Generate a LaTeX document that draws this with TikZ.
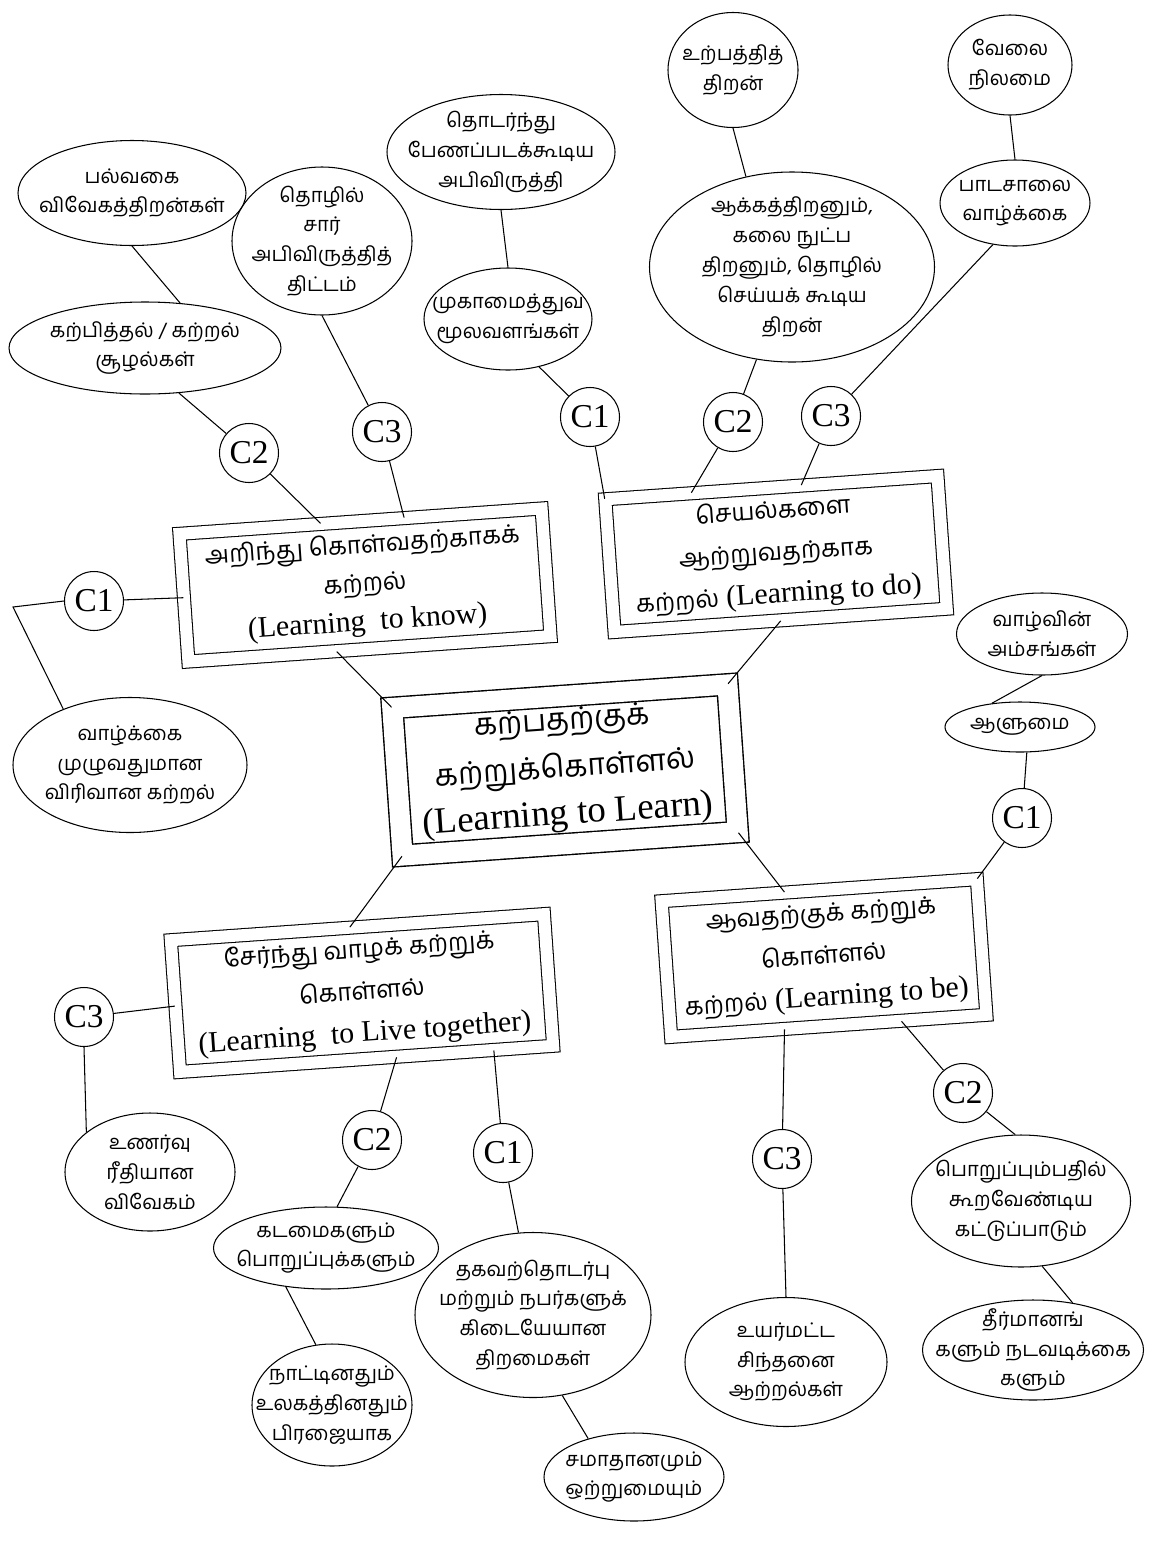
\documentclass[tikz,border=0pt]{standalone}
\usepackage{fontspec}
\setmainfont{Liberation Serif}
\newfontfamily\tamil[Script=Tamil, Scale=0.82]{Hind Madurai}
\usetikzlibrary{shapes.geometric, calc}
\newcommand{\tm}[1]{{\tamil #1}}

\tikzset{
  oval/.style 2 args={ellipse, draw, line width=0.6pt, inner sep=0pt,
    minimum width=#1*0.02cm, minimum height=#2*0.02cm},
  otext/.style={align=center, font=\tamil\fontsize{14}{17}\selectfont},
  cnode/.style={circle, draw, line width=0.6pt, inner sep=0pt, minimum size=1.18cm,
    font=\fontsize{19}{19}\selectfont},
  box/.style 2 args={rectangle, draw, line width=0.6pt, double, double distance=0.24cm,
    inner sep=0pt, rotate=4, align=center, minimum width=#1*0.02cm,
    minimum height=#2*0.02cm, font=\fontsize{17}{24}\selectfont},
  mainbox/.style={box={336}{148}, double distance=0.4cm, line width=0.8pt,
    font=\fontsize{21}{27}\selectfont},
  conn/.style={line width=0.6pt},
}

\begin{document}
\begin{tikzpicture}[x=0.02cm, y=-0.02cm]
\useasboundingbox (0,0) rectangle (1168,1542);

% the five pillars
\node[mainbox] (learn) at (565,770) {\tm{கற்பதற்குக்}\\\tm{கற்றுக்கொள்ளல்}\\(Learning to Learn)};
\node[box={363}{128}, font=\fontsize{17}{22}\selectfont] (know) at (365,585) {\tm{அறிந்து கொள்வதற்காகக்}\\\tm{கற்றல்}\\(Learning\ \ to know)};
\node[box={333}{133}] (todo) at (776,554) {\tm{செயல்களை}\\\tm{ஆற்றுவதற்காக}\\\tm{கற்றல்} (Learning to do)};
\node[box={374}{132}] (live) at (362,993) {\tm{சேர்ந்து வாழக் கற்றுக்}\\\tm{கொள்ளல்}\\(Learning\ \ to Live together)};
\node[box={316}{136}] (tobe) at (824,958) {\tm{ஆவதற்குக் கற்றுக்}\\\tm{கொள்ளல்}\\\tm{கற்றல்} (Learning to be)};

% levels C1, C2, C3
\node[cnode] (c2a) at (249,453) {C2};
\node[cnode] (c3a) at (382,432) {C3};
\node[cnode] (c1a) at (94,601) {C1};
\node[cnode] (c1b) at (590,417) {C1};
\node[cnode] (c2b) at (733,422) {C2};
\node[cnode] (c3b) at (831,416) {C3};
\node[cnode] (c1c) at (1022,818) {C1};
\node[cnode] (c3c) at (84,1017) {C3};
\node[cnode] (c2d) at (372,1140) {C2};
\node[cnode] (c1d) at (503,1153) {C1};
\node[cnode] (c3e) at (782,1159) {C3};
\node[cnode] (c2e) at (963,1093) {C2};

% learning to know
\node[oval={228}{105}, label={[otext]center:{பல்வகை\\விவேகத்திறன்கள்}}] (palvagai) at (132,193) {};
\node[oval={272}{92}, label={[otext]center:{கற்பித்தல் / கற்றல்\\சூழல்கள்}}] (katpithal) at (145,348) {};
\node[oval={180}{148}, label={[otext]center:{தொழில்\\சார்\\அபிவிருத்தித்\\திட்டம்}}] (thozhil) at (322,241) {};
\node[oval={234}{135}, label={[otext]center:{வாழ்க்கை\\முழுவதுமான\\விரிவான கற்றல்}}] (vazhkkai) at (130,765) {};

% learning to do
\node[oval={228}{115}, label={[otext]center:{தொடர்ந்து\\பேணப்படக்கூடிய\\அபிவிருத்தி}}] (thodarnthu) at (501,152) {};
\node[oval={168}{102}, label={[otext]center:{முகாமைத்துவ\\மூலவளங்கள்}}] (mugamai) at (508,319) {};
\node[oval={130}{115}, label={[otext]center:{உற்பத்தித்\\திறன்}}] (urpathi) at (733,70) {};
\node[oval={285}{190}, label={[otext]center:{ஆக்கத்திறனும்,\\கலை நுட்ப\\திறனும், தொழில்\\செய்யக் கூடிய\\திறன்}}] (aakka) at (792,267) {};
\node[oval={124}{100}, label={[otext]center:{வேலை\\நிலமை}}] (velai) at (1010,65) {};
\node[oval={150}{86}, label={[otext]center:{பாடசாலை\\வாழ்க்கை}}] (padasalai) at (1015,203) {};

% learning to be
\node[oval={171}{82}, label={[otext]center:{வாழ்வின்\\அம்சங்கள்}}] (vazhvin) at (1042,634) {};
\node[oval={150}{50}, label={[otext]center:{ஆளுமை}}] (aalumai) at (1020,727) {};
\node[oval={202}{129}, label={[otext]center:{உயர்மட்ட\\சிந்தனை\\ஆற்றல்கள்}}] (uyarmatta) at (786,1362) {};
\node[oval={219}{132}, label={[otext]center:{பொறுப்பும்பதில்\\கூறவேண்டிய\\கட்டுப்பாடும்}}] (porupu) at (1021,1201) {};
\node[oval={221}{100}, label={[otext]center:{தீர்மானங்\\களும் நடவடிக்கை\\களும்}}] (theermanam) at (1033,1350) {};

% learning to live together
\node[oval={170}{118}, label={[otext]center:{உணர்வு\\ரீதியான\\விவேகம்}}] (unarvu) at (150,1172) {};
\node[oval={225}{82}, label={[otext]center:{கடமைகளும்\\பொறுப்புக்களும்}}] (kadamai) at (326,1248) {};
\node[oval={160}{122}, label={[otext]center:{நாட்டினதும்\\உலகத்தினதும்\\பிரஜையாக}}] (nattinathum) at (332,1405) {};
\node[oval={236}{165}, label={[otext]center:{தகவற்தொடர்பு\\மற்றும் நபர்களுக்\\கிடையேயான\\திறமைகள்}}] (thagaval) at (533,1315) {};
\node[oval={180}{88}, label={[otext]center:{சமாதானமும்\\ஒற்றுமையும்}}] (samathanam) at (634,1477) {};

% connectors
\draw[conn] (palvagai.south) -- (katpithal.52);
\draw[conn] (katpithal.-53) -- (c2a);
\draw[conn] (c2a) -- ($(know.north west)!0.39!(know.north east)$);
\draw[conn] (thozhil.south) -- (c3a);
\draw[conn] (c3a) -- ($(know.north west)!0.62!(know.north east)$);
\draw[conn] (c1a) -- (know.west);
\coordinate (bend1) at (13,607);
\draw[conn] (c1a.west) -- (bend1) -- (vazhkkai.140);
\draw[conn] ($(know.south west)!0.41!(know.south east)$) -- (learn.north west);

\draw[conn] (thodarnthu.south) -- (mugamai.north);
\draw[conn] (mugamai.-57) -- (c1b);
\draw[conn] (c1b) -- (todo.north west);
\draw[conn] (urpathi.south) -- (aakka.117);
\draw[conn] (aakka.-111) -- (c2b);
\draw[conn] (c2b) -- ($(todo.north west)!0.26!(todo.north east)$);
\draw[conn] (c3b) -- ($(todo.north west)!0.59!(todo.north east)$);
\draw[conn] (c3b) -- (padasalai.-118);
\draw[conn] (velai.south) -- (padasalai.north);
\draw[conn] (learn.north east) -- ($(todo.south west)!0.5!(todo.south east)$);

\draw[conn] (vazhvin.south) -- (aalumai.140);
\draw[conn] (aalumai.-75) -- (c1c);
\draw[conn] (c1c) -- (tobe.north east);
\draw[conn] (learn.south east) -- ($(tobe.north west)!0.39!(tobe.north east)$);
\draw[conn] ($(tobe.south west)!0.36!(tobe.south east)$) -- (c3e);
\draw[conn] (c3e) -- (uyarmatta.north);
\draw[conn] ($(tobe.south west)!0.73!(tobe.south east)$) -- (c2e);
\draw[conn] (c2e) -- (porupu.95);
\draw[conn] (porupu.-72) -- (theermanam.50);

\draw[conn] (learn.south west) -- ($(live.north west)!0.48!(live.north east)$);
\draw[conn] (c3c) -- (live.west);
\draw[conn] (c3c.south) -- (unarvu.148);
\draw[conn] ($(live.south west)!0.58!(live.south east)$) -- (c2d);
\draw[conn] (c2d) -- (kadamai.75);
\draw[conn] (kadamai.-136) -- (nattinathum.105);
\draw[conn] ($(live.south west)!0.84!(live.south east)$) -- (c1d);
\draw[conn] (c1d) -- (thagaval.100);
\draw[conn] (thagaval.-70) -- (samathanam.140);
\end{tikzpicture}
\end{document}
